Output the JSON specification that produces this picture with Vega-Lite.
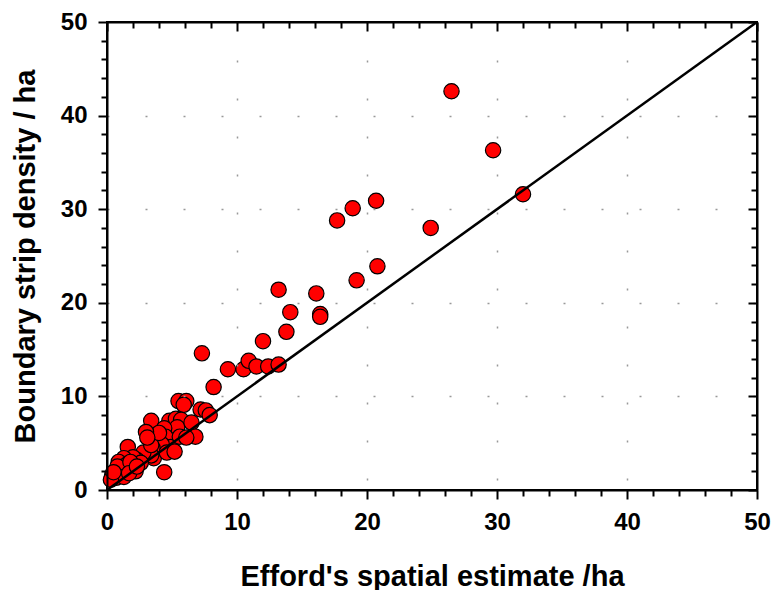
{
  "$schema": "https://vega.github.io/schema/vega-lite/v6.json",
  "width": 650,
  "height": 468,
  "autosize": "none",
  "padding": {"left": 107, "top": 22, "right": 16, "bottom": 100},
  "background": "white",
  "config": {
    "view": {"stroke": "black", "strokeWidth": 2},
    "font": "Liberation Sans"
  },
  "datasets": {
    "pts": [
      {"x": 26.5, "y": 42.6}, {"x": 29.7, "y": 36.3}, {"x": 32.0, "y": 31.6},
      {"x": 17.7, "y": 28.8}, {"x": 18.9, "y": 30.1}, {"x": 20.7, "y": 30.9},
      {"x": 24.9, "y": 28.0}, {"x": 20.8, "y": 23.9}, {"x": 19.2, "y": 22.4},
      {"x": 16.1, "y": 21.0}, {"x": 16.4, "y": 18.8}, {"x": 16.4, "y": 18.5},
      {"x": 13.2, "y": 21.4}, {"x": 14.1, "y": 19.0}, {"x": 13.8, "y": 16.9},
      {"x": 12.0, "y": 15.9}, {"x": 7.3, "y": 14.6}, {"x": 9.3, "y": 12.9},
      {"x": 10.5, "y": 12.9}, {"x": 10.9, "y": 13.8}, {"x": 11.5, "y": 13.2},
      {"x": 12.4, "y": 13.2}, {"x": 13.2, "y": 13.4}, {"x": 8.2, "y": 11.0},
      {"x": 5.5, "y": 9.5}, {"x": 6.1, "y": 9.5}, {"x": 5.9, "y": 9.1},
      {"x": 7.2, "y": 8.6}, {"x": 7.6, "y": 8.5}, {"x": 7.9, "y": 8.0},
      {"x": 3.4, "y": 7.4}, {"x": 4.8, "y": 7.4}, {"x": 5.3, "y": 7.6},
      {"x": 5.7, "y": 7.5}, {"x": 5.4, "y": 6.7}, {"x": 6.5, "y": 7.2},
      {"x": 4.4, "y": 6.6}, {"x": 4.5, "y": 5.7}, {"x": 3.4, "y": 5.6},
      {"x": 3.8, "y": 5.1}, {"x": 3.2, "y": 5.6}, {"x": 4.9, "y": 4.6},
      {"x": 5.6, "y": 5.7}, {"x": 6.8, "y": 5.7}, {"x": 6.1, "y": 5.6},
      {"x": 4.2, "y": 4.9}, {"x": 3.5, "y": 4.5}, {"x": 1.6, "y": 4.6},
      {"x": 3.6, "y": 3.4}, {"x": 3.4, "y": 3.7}, {"x": 2.8, "y": 4.0},
      {"x": 2.3, "y": 3.2}, {"x": 2.0, "y": 3.5}, {"x": 2.6, "y": 2.9},
      {"x": 1.3, "y": 3.4}, {"x": 0.9, "y": 3.0}, {"x": 1.5, "y": 2.7},
      {"x": 0.8, "y": 2.5}, {"x": 1.8, "y": 3.0}, {"x": 4.4, "y": 1.9},
      {"x": 2.2, "y": 2.0}, {"x": 0.4, "y": 1.6}, {"x": 0.7, "y": 1.3},
      {"x": 1.3, "y": 1.4}, {"x": 0.3, "y": 1.1}, {"x": 0.5, "y": 1.9},
      {"x": 1.7, "y": 1.8}, {"x": 2.3, "y": 2.5}, {"x": 4.6, "y": 4.0},
      {"x": 5.2, "y": 4.1}, {"x": 3.4, "y": 4.8}, {"x": 4.0, "y": 6.1},
      {"x": 3.0, "y": 6.2}, {"x": 3.1, "y": 5.6}
    ],
    "diag": [{"x": 0, "y": 0}, {"x": 50, "y": 50}]
  },
  "resolve": {"axis": {"x": "independent", "y": "independent"}},
  "layer": [
    {
      "data": {"name": "pts"},
      "mark": {"type": "point", "filled": true, "fill": "#ff0000", "stroke": "black", "strokeWidth": 1.2, "size": 235, "opacity": 1, "fillOpacity": 1},
      "encoding": {
        "x": {
          "field": "x", "type": "quantitative",
          "scale": {"domain": [0, 50], "nice": false, "zero": false},
          "axis": {
            "orient": "bottom", "zindex": 1,
            "values": [0,2,4,6,8,10,12,14,16,18,20,22,24,26,28,30,32,34,36,38,40,42,44,46,48,50],
            "labelExpr": "datum.value % 10 == 0 ? datum.label : ''",
            "tickSize": {"condition": {"test": "datum.value % 10 == 0", "value": 9}, "value": 6},
            "tickWidth": 2, "tickColor": "black",
            "domainWidth": 2, "domainColor": "black",
            "labelFont": "Liberation Sans", "labelFontWeight": "bold", "labelFontSize": 24, "labelColor": "black",
            "labelPadding": 11, "labelFlush": false,
            "title": "Efford's spatial estimate /ha",
            "titleFont": "Liberation Sans", "titleFontWeight": "bold", "titleFontSize": 29, "titleColor": "black",
            "titlePadding": 28,
            "grid": true, "gridColor": "#999999", "gridWidth": 1.5, "gridDash": [2, 36],
            "gridOpacity": {"condition": {"test": "datum.value % 10 == 0 && datum.value > 0 && datum.value < 50", "value": 1}, "value": 0}
          }
        },
        "y": {
          "field": "y", "type": "quantitative",
          "scale": {"domain": [0, 50], "nice": false, "zero": false},
          "axis": {
            "orient": "left", "zindex": 1,
            "values": [0,2,4,6,8,10,12,14,16,18,20,22,24,26,28,30,32,34,36,38,40,42,44,46,48,50],
            "labelExpr": "datum.value % 10 == 0 ? datum.label : ''",
            "tickSize": {"condition": {"test": "datum.value % 10 == 0", "value": 9}, "value": 6},
            "tickWidth": 2, "tickColor": "black",
            "domainWidth": 2, "domainColor": "black",
            "labelFont": "Liberation Sans", "labelFontWeight": "bold", "labelFontSize": 24, "labelColor": "black",
            "labelPadding": 11, "labelFlush": false,
            "title": "Boundary strip density / ha",
            "titleFont": "Liberation Sans", "titleFontWeight": "bold", "titleFontSize": 29, "titleColor": "black",
            "titlePadding": 20,
            "grid": true, "gridColor": "#999999", "gridWidth": 1.5, "gridDash": [2, 36],
            "gridOpacity": {"condition": {"test": "datum.value % 10 == 0 && datum.value > 0 && datum.value < 50", "value": 1}, "value": 0}
          }
        }
      }
    },
    {
      "data": {"name": "diag"},
      "mark": {"type": "line", "color": "black", "strokeWidth": 2.5},
      "encoding": {
        "x": {
          "field": "x", "type": "quantitative",
          "axis": {
            "orient": "top", "zindex": 1,
            "values": [0,2,4,6,8,10,12,14,16,18,20,22,24,26,28,30,32,34,36,38,40,42,44,46,48,50],
            "labels": false, "title": null, "grid": false,
            "tickSize": {"condition": {"test": "datum.value % 10 == 0", "value": -9}, "value": -6},
            "tickWidth": 2, "tickColor": "black",
            "domainWidth": 2, "domainColor": "black"
          }
        },
        "y": {
          "field": "y", "type": "quantitative",
          "axis": {
            "orient": "right", "zindex": 1,
            "values": [0,2,4,6,8,10,12,14,16,18,20,22,24,26,28,30,32,34,36,38,40,42,44,46,48,50],
            "labels": false, "title": null, "grid": false,
            "tickSize": {"condition": {"test": "datum.value % 10 == 0", "value": -9}, "value": -6},
            "tickWidth": 2, "tickColor": "black",
            "domainWidth": 2, "domainColor": "black"
          }
        }
      }
    }
  ]
}
